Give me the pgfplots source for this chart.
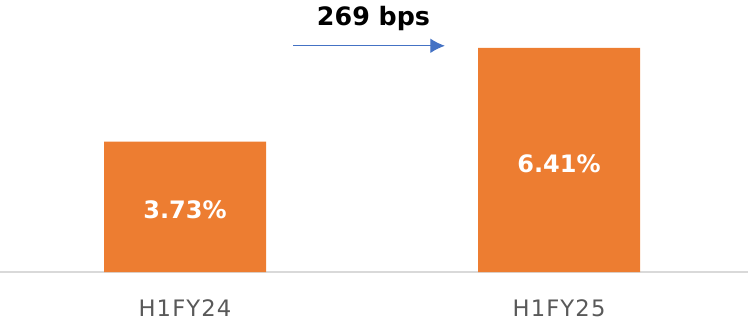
\documentclass[border=0pt]{standalone}
\usepackage{fontspec}
\setmainfont{DejaVu Sans}
\newfontfamily\tickfont[LetterSpace=5]{DejaVu Sans}
\usepackage{pgfplots}
\pgfplotsset{compat=1.18}
\usetikzlibrary{arrows.meta}
\definecolor{barorange}{HTML}{ED7D31}
\definecolor{ticktext}{HTML}{595959}
\definecolor{axisgray}{HTML}{D9D9D9}
\definecolor{arrowblue}{HTML}{4472C4}
\begin{document}
\begin{tikzpicture}
\begin{axis}[
  scale only axis,
  width=561pt, height=204pt,
  xmin=-0.4947, xmax=1.5053,
  ymin=0, ymax=7.78,
  axis x line*=bottom,
  axis y line=none,
  x axis line style={draw=axisgray, line width=1.1pt, -},
  xtick={0,1},
  xticklabels={H1FY24,H1FY25},
  major tick length=0pt,
  xticklabel style={anchor=base, yshift=-33pt, font=\tickfont\fontsize{17pt}{20pt}\selectfont, text=ticktext},
  ybar,
  bar width=121.5pt,
  bar shift=0pt,
  clip=false,
  nodes near coords={\pgfmathprintnumber[fixed,precision=2,fixed zerofill,assume math mode=true]{\pgfplotspointmeta}\%},
  visualization depends on={y \as \rawy},
  every node near coord/.append style={anchor=center, text=white,
    font=\bfseries\fontsize{18pt}{21pt}\selectfont,
    shift={(axis direction cs:0,-\rawy/2)}, yshift=-2.5pt},
]
\addplot[fill=barorange, draw=none] coordinates {(0,3.73) (1,6.41)};
\draw[arrowblue, line width=0.9pt, -{Latex[length=11pt,width=11pt]}] (axis cs:0.289,6.47) -- (axis cs:0.695,6.47);
\node[anchor=base, font=\bfseries\fontsize{19pt}{22pt}\selectfont, inner sep=0pt] at (axis cs:0.504,7.04) {269 bps};
\end{axis}
\pgfresetboundingbox
\path (0,-39pt) rectangle (561pt,204pt);
\end{tikzpicture}
\end{document}
